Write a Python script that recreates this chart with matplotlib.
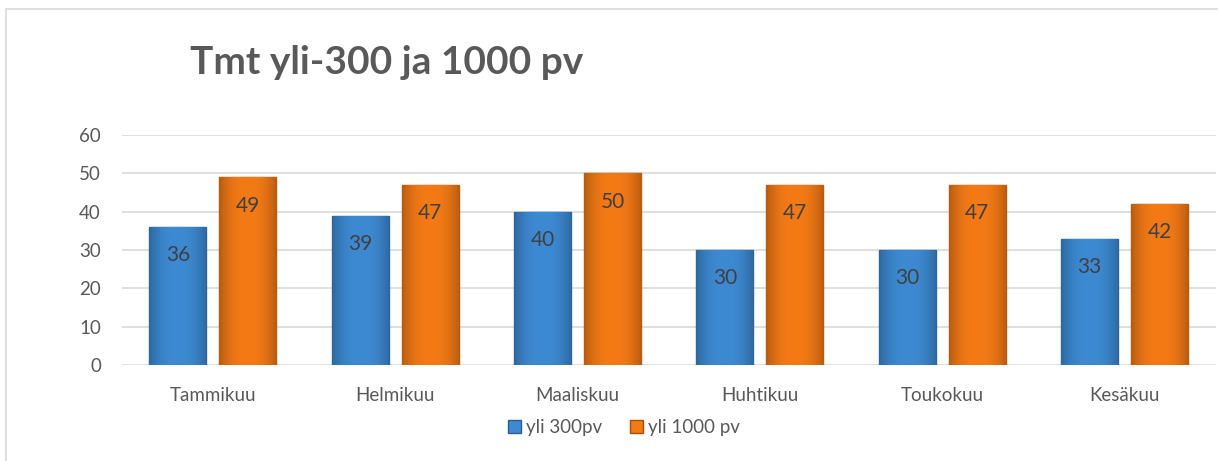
import numpy as np
import matplotlib
matplotlib.use("Agg")
import matplotlib.pyplot as plt
from matplotlib.patches import Rectangle

plt.rcParams['font.family'] = ['Lato', 'DejaVu Sans']

# data
months = ['Tammikuu', 'Helmikuu', 'Maaliskuu', 'Huhtikuu', 'Toukokuu', 'Kesäkuu']
yli_300 = [36, 39, 40, 30, 30, 33]
yli_1000 = [49, 47, 50, 47, 47, 42]
series_names = ['yli 300pv', 'yli 1000 pv']

title = 'Tmt yli-300 ja 1000 pv'
txtcolor = '#595959'
blue = '#3d8ad3'
blue_edge = '#2a5f94'
orange = '#f47a16'
orange_edge = '#a84f0a'

fig = plt.figure(figsize=(12.18, 4.61), dpi=100)

# outer chart frame
fig.patches.append(Rectangle((6/1218, -0.05), 1.2, 452/461 + 0.05, transform=fig.transFigure,
                             fill=False, edgecolor='#d9d9d9', linewidth=1.2))

ax = fig.add_axes([0.1, 0.208, 0.898, 0.499])

x = np.arange(len(months))
width = 0.313
off = 0.192


def shade(ax, bars, color):
    # gradient across the bar width, darker at the sides
    base = np.array(matplotlib.colors.to_rgb(color))
    prof = 1.0 - 0.25 * np.abs(np.linspace(-1, 1, 64)) ** 2.5
    img = np.clip(base[None, None, :] * prof[None, :, None], 0, 1)
    for b in bars:
        x0, y0 = b.get_x(), b.get_y()
        im = ax.imshow(img, extent=[x0, x0 + b.get_width(), y0, y0 + b.get_height()],
                       aspect='auto', zorder=b.get_zorder(), interpolation='bilinear')
        im.set_clip_path(b)


b1 = ax.bar(x - off, yli_300, width, color=blue, edgecolor=blue_edge, linewidth=1, zorder=3,
            label=series_names[0])
b2 = ax.bar(x + off, yli_1000, width, color=orange, edgecolor=orange_edge, linewidth=1, zorder=3,
            label=series_names[1])
shade(ax, b1, blue)
shade(ax, b2, orange)

for bars, vals in ((b1, yli_300), (b2, yli_1000)):
    for b, v in zip(bars, vals):
        ax.text(b.get_x() + b.get_width() / 2, v - 7.4, str(v), ha='center', va='center',
                fontsize=15, color='#404040', zorder=5)

ax.set_xlim(-0.5, len(months) - 0.5)
ax.set_ylim(0, 60)
ax.set_yticks(range(0, 61, 10))
ax.set_xticks(x)
ax.set_xticklabels(months)
ax.grid(axis='y', color='#d9d9d9', linewidth=1.2, zorder=0)
ax.set_axisbelow(True)
for s in ax.spines.values():
    s.set_visible(False)
ax.tick_params(axis='both', length=0, labelsize=13.5, colors=txtcolor)
ax.tick_params(axis='y', pad=15)
ax.tick_params(axis='x', pad=16)

leg = ax.legend(loc='upper center', bbox_to_anchor=(0.459, -0.16), ncol=2, frameon=False,
                fontsize=13.5, handlelength=0.7, handleheight=0.7, handletextpad=0.25,
                columnspacing=1.5, labelcolor=txtcolor)

fig.text(190/1218, 1 - 62/461, title, fontsize=28, fontweight='bold', color=txtcolor,
         ha='left', va='center')

fig.savefig('out.png', dpi=100)
